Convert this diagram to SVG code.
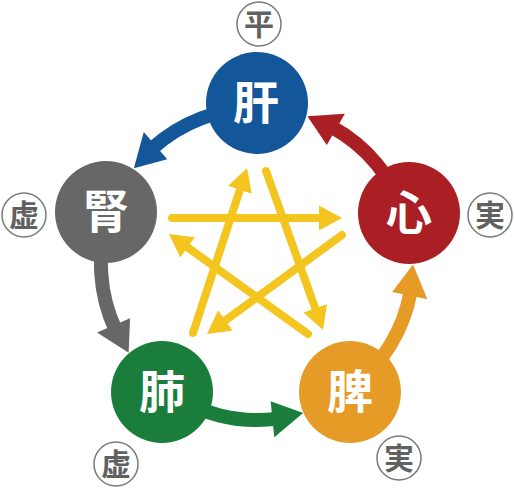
<svg xmlns="http://www.w3.org/2000/svg" width="514" height="488" viewBox="0 0 514 488">
<style>
.band{fill:none;stroke-width:14}
.star{fill:none;stroke:#f5c51f;stroke-width:8;stroke-linecap:round}
.node text{font-family:"Noto Sans CJK JP","Noto Sans CJK SC",sans-serif;font-weight:bold;font-size:46px;fill:#fff;text-anchor:middle}
.tag circle{fill:#fff;stroke:#7a7a7a;stroke-width:1.5}
.tag text{font-family:"Noto Sans CJK JP","Noto Sans CJK SC",sans-serif;font-weight:bold;font-size:30px;fill:#616161;text-anchor:middle}
</style>
<defs>
<marker id="yh" viewBox="0 -13 24 26" refX="2" refY="0" markerWidth="24" markerHeight="26" markerUnits="userSpaceOnUse" orient="auto">
<path d="M0,-12.5 L23,0 L0,12.5z" fill="#f5c51f"/>
</marker>
</defs>
<g id="connectors">
<g transform="rotate(0.9 257 264)" fill="#13579a" stroke="#13579a">
<path class="band" d="M257,108 A156,156 0 0 0 149.6,150.8"/>
<polygon stroke="none" points="165.6,160.6 141.7,133.7 132.4,170.1"/>
</g>
<g transform="rotate(71.85 257 264)" fill="#aa1f24" stroke="#aa1f24">
<path class="band" d="M257,108 A156,156 0 0 0 149.6,150.8"/>
<polygon stroke="none" points="165.6,160.6 141.7,133.7 132.4,170.1"/>
</g>
<g transform="rotate(143.2 257 264)" fill="#e69b27" stroke="#e69b27">
<path class="band" d="M257,108 A156,156 0 0 0 149.6,150.8"/>
<polygon stroke="none" points="165.6,160.6 141.7,133.7 132.4,170.1"/>
</g>
<g transform="rotate(215.8 257 264)" fill="#1a7d3b" stroke="#1a7d3b">
<path class="band" d="M257,108 A156,156 0 0 0 149.6,150.8"/>
<polygon stroke="none" points="165.6,160.6 141.7,133.7 132.4,170.1"/>
</g>
<g transform="rotate(288.35 257 264)" fill="#666766" stroke="#666766">
<path class="band" d="M257,108 A156,156 0 0 0 149.6,150.8"/>
<polygon stroke="none" points="165.6,160.6 141.7,133.7 132.4,170.1"/>
</g>
<line class="star" x1="172" y1="218" x2="321" y2="218" marker-end="url(#yh)"/>
<line class="star" x1="342" y1="235" x2="223.9" y2="321.6" marker-end="url(#yh)"/>
<line class="star" x1="193" y1="333" x2="240.5" y2="188" marker-end="url(#yh)"/>
<line class="star" x1="266" y1="171" x2="315.9" y2="310.2" marker-end="url(#yh)"/>
<line class="star" x1="308" y1="334" x2="186" y2="246.3" marker-end="url(#yh)"/>
</g>
<g id="node-kan" class="node"><circle cx="257" cy="103" r="51" fill="#13579a"/><text x="256" y="119">肝</text></g>
<g id="node-shin" class="node"><circle cx="409" cy="213" r="51" fill="#aa1f24"/><text x="409" y="229">心</text></g>
<g id="node-hi" class="node"><circle cx="350" cy="392" r="51" fill="#e69b27"/><text x="350" y="408">脾</text></g>
<g id="node-hai" class="node"><circle cx="162" cy="392" r="51" fill="#1a7d3b"/><text x="162" y="408">肺</text></g>
<g id="node-jin" class="node"><circle cx="106" cy="212" r="51" fill="#666766"/><text x="106" y="228">腎</text></g>
<g id="tag-kan" class="tag"><circle cx="259" cy="24" r="22"/><text x="259" y="35">平</text></g>
<g id="tag-shin" class="tag"><circle cx="490" cy="215" r="22"/><text x="490" y="226">実</text></g>
<g id="tag-hi" class="tag"><circle cx="399" cy="458" r="22"/><text x="399" y="469">実</text></g>
<g id="tag-hai" class="tag"><circle cx="116" cy="464" r="22"/><text x="116" y="475">虚</text></g>
<g id="tag-jin" class="tag"><circle cx="24" cy="215" r="22"/><text x="24" y="226">虚</text></g>
</svg>
